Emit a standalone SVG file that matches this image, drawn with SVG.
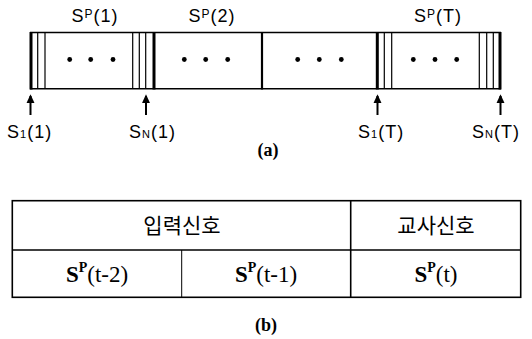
<svg xmlns="http://www.w3.org/2000/svg" width="532" height="339" viewBox="0 0 532 339">
<defs>
<style>
.bg{fill:#ffffff}
.frame{stroke:#000;stroke-width:1.5;fill:none}
.thick{stroke:#000;stroke-width:3;fill:none}
.mid{stroke:#000;stroke-width:2.2;fill:none}
.thin{stroke:#000;stroke-width:1.2;fill:none}
.dot{fill:#000}
.lbl{font-family:"Liberation Sans","DejaVu Sans",sans-serif;font-size:18px;fill:#000;letter-spacing:1px}
.cap{font-family:"Liberation Serif","DejaVu Serif",serif;font-size:18px;font-weight:bold;fill:#000}
.cell{font-family:"Liberation Serif","DejaVu Serif",serif;font-size:23px;fill:#000}
.kr{font-family:"Noto Sans CJK KR","Noto Sans CJK SC",sans-serif;font-size:21px;fill:#000}
.tbl{stroke:#000;stroke-width:1.6;fill:none}
.tblthin{stroke:#000;stroke-width:1;fill:none}
.arrow{stroke:#000;stroke-width:2;fill:none}
.head{fill:#000}
</style>
<marker id="ah" viewBox="0 0 10 10" refX="8" refY="5" markerWidth="9" markerHeight="9" markerUnits="userSpaceOnUse" orient="auto">
<path d="M0,0.5 L10,5 L0,9.5 z" class="head"/>
</marker>
</defs>
<rect class="bg" x="0" y="0" width="532" height="339"/>

<g id="frame-seq">
<line class="frame" x1="30" y1="32.5" x2="501" y2="32.5"/>
<line class="frame" x1="30" y1="88.8" x2="501" y2="88.8"/>
</g>

<g id="segment-1">
<line class="thick" x1="31" y1="32" x2="31" y2="89.5"/>
<line class="thin" x1="37.7" y1="32" x2="37.7" y2="89"/>
<line class="thin" x1="45" y1="32" x2="45" y2="89"/>
<circle class="dot" cx="69.7" cy="59.5" r="2.4"/>
<circle class="dot" cx="90.7" cy="59.5" r="2.4"/>
<circle class="dot" cx="113" cy="59.5" r="2.4"/>
<line class="thin" x1="132.7" y1="32" x2="132.7" y2="89"/>
<line class="thin" x1="139.3" y1="32" x2="139.3" y2="89"/>
<line class="thin" x1="145.7" y1="32" x2="145.7" y2="89"/>
<line class="thick" x1="154" y1="32" x2="154" y2="89.5"/>
<text class="lbl" x="95" y="22" text-anchor="middle">S<tspan font-size="12" dy="-4">P</tspan><tspan dy="4">(1)</tspan></text>
</g>

<g id="segment-2">
<circle class="dot" cx="184.3" cy="59.5" r="2.4"/>
<circle class="dot" cx="205.7" cy="59.5" r="2.4"/>
<circle class="dot" cx="227.7" cy="59.5" r="2.4"/>
<line class="mid" x1="262" y1="32" x2="262" y2="89.5"/>
<text class="lbl" x="212" y="22" text-anchor="middle">S<tspan font-size="12" dy="-4">P</tspan><tspan dy="4">(2)</tspan></text>
</g>

<g id="segment-mid">
<circle class="dot" cx="297.7" cy="59.5" r="2.4"/>
<circle class="dot" cx="319.3" cy="59.5" r="2.4"/>
<circle class="dot" cx="341.3" cy="59.5" r="2.4"/>
</g>

<g id="segment-T">
<line class="thick" x1="377.3" y1="32" x2="377.3" y2="89.5"/>
<line class="thin" x1="384.3" y1="32" x2="384.3" y2="89"/>
<line class="thin" x1="391.7" y1="32" x2="391.7" y2="89"/>
<circle class="dot" cx="413.3" cy="59.5" r="2.4"/>
<circle class="dot" cx="435" cy="59.5" r="2.4"/>
<circle class="dot" cx="456.7" cy="59.5" r="2.4"/>
<line class="thin" x1="479.3" y1="32" x2="479.3" y2="89"/>
<line class="thin" x1="486.7" y1="32" x2="486.7" y2="89"/>
<line class="thin" x1="493.3" y1="32" x2="493.3" y2="89"/>
<line class="thick" x1="500" y1="32" x2="500" y2="89.5"/>
<text class="lbl" x="438" y="22" text-anchor="middle">S<tspan font-size="12" dy="-4">P</tspan><tspan dy="4">(T)</tspan></text>
</g>

<g id="connectors">
<line class="arrow" x1="30.5" y1="115" x2="30.5" y2="96" marker-end="url(#ah)"/>
<line class="arrow" x1="146" y1="115" x2="146" y2="96" marker-end="url(#ah)"/>
<line class="arrow" x1="377.5" y1="115" x2="377.5" y2="96" marker-end="url(#ah)"/>
<line class="arrow" x1="500.5" y1="115" x2="500.5" y2="96" marker-end="url(#ah)"/>
</g>

<g id="labels-a">
<text class="lbl" x="7" y="138">S<tspan font-size="11">1</tspan>(1)</text>
<text class="lbl" x="129" y="138">S<tspan font-size="11">N</tspan>(1)</text>
<text class="lbl" x="358" y="138">S<tspan font-size="11">1</tspan>(T)</text>
<text class="lbl" x="472" y="138">S<tspan font-size="11">N</tspan>(T)</text>
<text class="cap" x="268" y="156" text-anchor="middle">(a)</text>
</g>

<g id="table">
<rect class="tbl" x="12.3" y="200.7" width="508.4" height="96.6"/>
<line class="tbl" x1="12.3" y1="250" x2="520.7" y2="250"/>
<line class="tbl" x1="350.7" y1="200.7" x2="350.7" y2="297.3"/>
<line class="tblthin" x1="181.7" y1="250" x2="181.7" y2="297.3"/>
</g>
<g id="cell-input">
<text class="kr" x="182" y="233" text-anchor="middle">입력신호</text>
</g>
<g id="cell-teacher">
<text class="kr" x="436" y="233" text-anchor="middle">교사신호</text>
</g>
<g id="cell-t2">
<text class="cell" x="97" y="282" text-anchor="middle"><tspan font-weight="bold">S</tspan><tspan font-size="14" font-weight="bold" dy="-10">P</tspan><tspan dy="10">(t-2)</tspan></text>
</g>
<g id="cell-t1">
<text class="cell" x="266" y="282" text-anchor="middle"><tspan font-weight="bold">S</tspan><tspan font-size="14" font-weight="bold" dy="-10">P</tspan><tspan dy="10">(t-1)</tspan></text>
</g>
<g id="cell-t">
<text class="cell" x="436" y="282" text-anchor="middle"><tspan font-weight="bold">S</tspan><tspan font-size="14" font-weight="bold" dy="-10">P</tspan><tspan dy="10">(t)</tspan></text>
</g>
<g id="caption-b">
<text class="cap" x="266" y="331" text-anchor="middle">(b)</text>
</g>
</svg>
